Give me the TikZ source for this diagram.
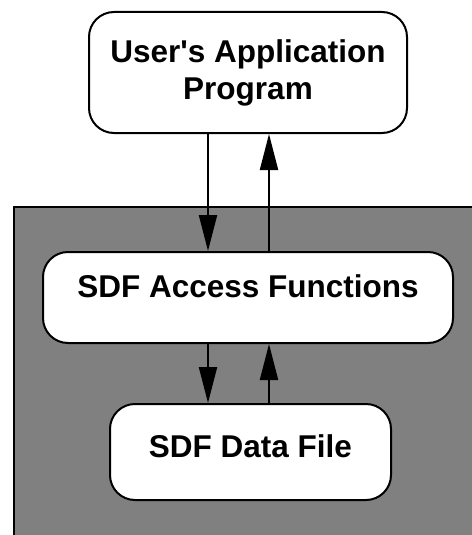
\documentclass[tikz,border=0pt]{standalone}
\usepackage{fontspec}
\newfontfamily\labelfont{Liberation Sans}
\usepackage{tikz}
\usetikzlibrary{arrows.meta,positioning}
\definecolor{panelgray}{RGB}{128,128,128}

\begin{document}
\begin{tikzpicture}[x=1pt, y=-1pt, font=\labelfont\bfseries\fontsize{31.5}{37}\selectfont, >={Triangle[length=36pt,width=18pt]}]
\tikzstyle{box}=[rounded corners=25pt, draw=black, line width=2pt, fill=white, align=center, inner sep=0pt]
\useasboundingbox (0,0) rectangle (471,535);
% grey panel behind the library layer
\draw[line width=2pt, fill=panelgray] (14,207) rectangle (490,560);
\node[box, minimum width=318pt, minimum height=121pt] (app) at (248,72.5) {User\textquotesingle s Application\\Program};
\node[box, minimum width=410pt, minimum height=91pt, text height=22pt, text depth=22pt] (access) at (248,297.5) {SDF Access Functions};
\node[box, minimum width=281pt, minimum height=96pt, text height=22pt, text depth=12pt] (datafile) at (250.5,452) {SDF Data File};
\draw[->, line width=2pt] ([xshift=-40pt]app.south) -- ([xshift=-40pt]app.south |- access.north);
\draw[->, line width=2pt] ([xshift=21pt]access.north) -- ([xshift=21pt]access.north |- app.south);
\draw[->, line width=2pt] ([xshift=-40pt]access.south) -- ([xshift=-40pt]access.south |- datafile.north);
\draw[->, line width=2pt] ([xshift=21pt]access.south |- datafile.north) -- ([xshift=21pt]access.south);
\end{tikzpicture}
\end{document}
